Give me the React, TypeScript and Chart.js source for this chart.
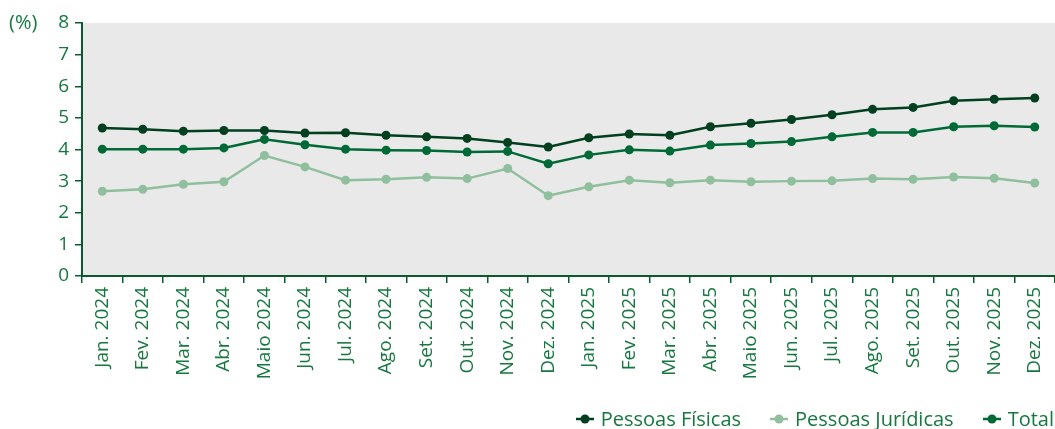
import React, { useEffect, useRef } from 'react';
import { Chart, registerables } from 'chart.js';

Chart.register(...registerables);

const categories = [
  'Jan. 2024', 'Fev. 2024', 'Mar. 2024', 'Abr. 2024', 'Maio 2024', 'Jun. 2024',
  'Jul. 2024', 'Ago. 2024', 'Set. 2024', 'Out. 2024', 'Nov. 2024', 'Dez. 2024',
  'Jan. 2025', 'Fev. 2025', 'Mar. 2025', 'Abr. 2025', 'Maio 2025', 'Jun. 2025',
  'Jul. 2025', 'Ago. 2025', 'Set. 2025', 'Out. 2025', 'Nov. 2025', 'Dez. 2025',
];

const pessoasFisicas = [
  4.68, 4.64, 4.58, 4.60, 4.60, 4.52, 4.53, 4.45, 4.40, 4.35, 4.22, 4.08,
  4.37, 4.49, 4.45, 4.72, 4.83, 4.95, 5.10, 5.27, 5.33, 5.54, 5.59, 5.63,
];

const pessoasJuridicas = [
  2.68, 2.74, 2.90, 2.98, 3.81, 3.45, 3.03, 3.06, 3.12, 3.08, 3.40, 2.54,
  2.82, 3.03, 2.95, 3.03, 2.98, 3.00, 3.01, 3.08, 3.06, 3.13, 3.09, 2.94,
];

const total = [
  4.01, 4.01, 4.01, 4.05, 4.32, 4.15, 4.01, 3.98, 3.97, 3.92, 3.94, 3.55,
  3.83, 3.99, 3.95, 4.14, 4.19, 4.25, 4.40, 4.54, 4.54, 4.72, 4.75, 4.71,
];

const seriesNames = ['Pessoas Físicas', 'Pessoas Jurídicas', 'Total'];
const yMin = 0;
const yMax = 8;
const yStep = 1;
const unitLabel = '(%)';

const COLOR_PF = '#013f1f';
const COLOR_PJ = '#8fbf9c';
const COLOR_TOTAL = '#006a36';
const TEXT = '#17783f';
const AXIS = '#0b5a2f';
const PLOT_BG = '#e9e9e9';
const FONT = '"Open Sans", "Noto Sans", sans-serif';
const seriesColors = [COLOR_PF, COLOR_PJ, COLOR_TOTAL];

export default function App() {
  const ref = useRef<HTMLCanvasElement | null>(null);

  useEffect(() => {
    document.body.style.margin = '0';
    const canvas = ref.current;
    if (!canvas) return;

    const bgPlugin = {
      id: 'plotBg',
      beforeDraw(chart: any) {
        const { ctx, chartArea } = chart;
        ctx.save();
        ctx.fillStyle = PLOT_BG;
        ctx.fillRect(chartArea.left, chartArea.top, chartArea.right - chartArea.left, chartArea.bottom - chartArea.top);
        ctx.restore();
      },
      afterDraw(chart: any) {
        const { ctx } = chart;
        const y = chart.scales.y.getPixelForValue(yMax);
        ctx.save();
        ctx.fillStyle = TEXT;
        ctx.font = `20px ${FONT}`;
        ctx.textAlign = 'left';
        ctx.textBaseline = 'middle';
        ctx.fillText(unitLabel, 9, y);
        ctx.restore();
      },
    };

    const mk = (label: string, data: number[], color: string) => ({
      label,
      data,
      borderColor: color,
      backgroundColor: color,
      pointBackgroundColor: color,
      pointBorderColor: color,
      borderWidth: 2.5,
      pointRadius: 4.5,
      pointBorderWidth: 0,
      tension: 0,
      clip: false,
    });

    const chart = new Chart(canvas, {
      type: 'line',
      data: {
        labels: categories,
        datasets: [
          mk(seriesNames[0], pessoasFisicas, COLOR_PF),
          mk(seriesNames[1], pessoasJuridicas, COLOR_PJ),
          mk(seriesNames[2], total, COLOR_TOTAL),
        ],
      },
      options: {
        animation: false,
        responsive: false,
        devicePixelRatio: 1,
        layout: { autoPadding: false, padding: { top: 23, right: 0, bottom: 49, left: 0 } },
        plugins: {
          tooltip: { enabled: false },
          legend: { display: false },
        },
        scales: {
          x: {
            offset: true,
            grid: {
              offset: true,
              drawOnChartArea: false,
              tickLength: 7,
              color: AXIS,
              lineWidth: 1.5,
            },
            border: { display: true, color: AXIS, width: 2 },
            ticks: {
              color: TEXT,
              font: { family: FONT, size: 19 },
              minRotation: 90,
              maxRotation: 90,
              autoSkip: false,
              padding: 4,
            },
            afterFit: (scale: any) => {
              scale.height = 104;
              scale.paddingLeft = 0;
              scale.paddingRight = 0;
            },
          },
          y: {
            min: yMin,
            max: yMax,
            ticks: {
              stepSize: yStep,
              color: TEXT,
              font: { family: FONT, size: 19 },
              padding: 6,
            },
            grid: {
              drawOnChartArea: false,
              tickLength: 7,
              color: AXIS,
              lineWidth: 1.5,
            },
            border: { display: true, color: AXIS, width: 2 },
            afterFit: (scale: any) => {
              scale.width = 82;
              scale.paddingTop = 0;
              scale.paddingBottom = 0;
            },
          },
        },
      },
      plugins: [bgPlugin],
    } as any);

    return () => chart.destroy();
  }, []);

  return (
    <div style={{ width: 1055, height: 429, position: 'relative' }}>
      <canvas ref={ref} width={1055} height={429} />
      <div
        style={{
          position: 'absolute',
          top: 408,
          right: 1,
          height: 22,
          display: 'flex',
          alignItems: 'center',
          gap: 29,
          fontFamily: FONT,
          fontSize: 20,
          lineHeight: '22px',
          color: TEXT,
          whiteSpace: 'nowrap',
        }}
      >
        {seriesNames.map((name, i) => (
          <div key={name} style={{ display: 'flex', alignItems: 'center', gap: 7 }}>
            <svg width={18} height={12} style={{ display: 'block' }}>
              <line x1={0} y1={6} x2={18} y2={6} stroke={seriesColors[i]} strokeWidth={2.5} />
              <circle cx={9} cy={6} r={4.5} fill={seriesColors[i]} />
            </svg>
            <span>{name}</span>
          </div>
        ))}
      </div>
    </div>
  );
}
